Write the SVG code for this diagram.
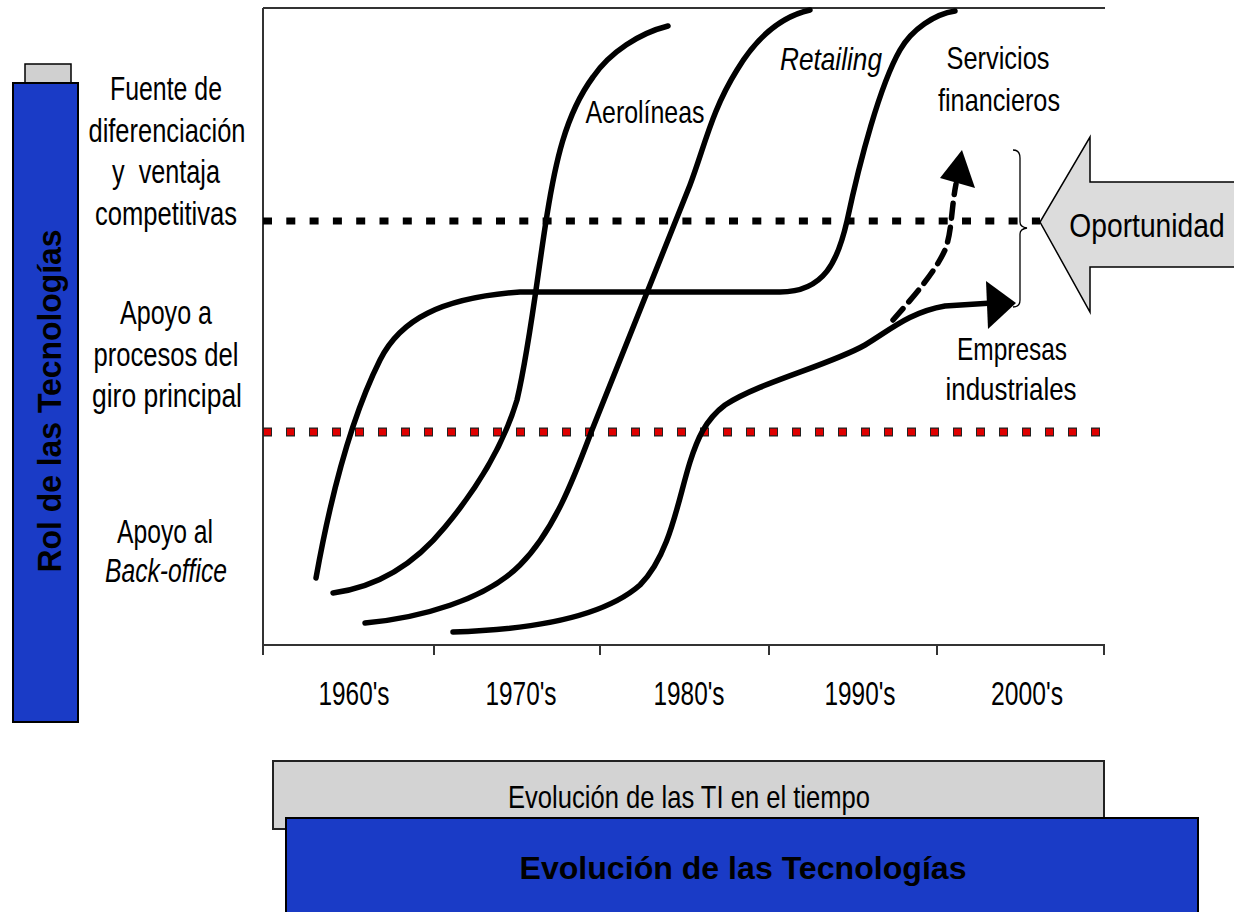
<svg xmlns="http://www.w3.org/2000/svg" width="1234" height="912" viewBox="0 0 1234 912">
<style>
.t{font-family:'Liberation Sans Narrow','Liberation Sans',Arial,sans-serif;fill:#000;text-anchor:middle}
.lbl{font-size:33px}
.chart{font-size:32px}
.yr{font-size:33px}
.it{font-style:italic}
.b{font-weight:bold}
.frame{stroke:#333;stroke-width:2;fill:none}
.curve{stroke:#000;stroke-width:5.5;fill:none;stroke-linecap:round;stroke-linejoin:round}
</style>
<rect width="1234" height="912" fill="#fff"/>

<g id="rol-bar">
<rect x="25" y="64" width="46" height="19" fill="#d0d0d0" stroke="#000" stroke-width="1.5"/>
<rect x="13" y="83" width="65" height="639" fill="#1a3bc6" stroke="#000" stroke-width="2"/>
<text class="t b" font-family="'Liberation Sans',Arial,sans-serif" font-size="34" transform="translate(61,401) rotate(-90)" textLength="343" lengthAdjust="spacingAndGlyphs">Rol de las Tecnologías</text>
</g>

<g id="row-labels">
<text class="t lbl" x="166" y="100" textLength="112" lengthAdjust="spacingAndGlyphs">Fuente de</text>
<text class="t lbl" x="167" y="142" textLength="157" lengthAdjust="spacingAndGlyphs">diferenciación</text>
<text class="t lbl" x="166" y="183" textLength="108" lengthAdjust="spacingAndGlyphs" xml:space="preserve">y  ventaja</text>
<text class="t lbl" x="166" y="225" textLength="142" lengthAdjust="spacingAndGlyphs">competitivas</text>
<text class="t lbl" x="166" y="324" textLength="92" lengthAdjust="spacingAndGlyphs">Apoyo a</text>
<text class="t lbl" x="166" y="366" textLength="145" lengthAdjust="spacingAndGlyphs">procesos del</text>
<text class="t lbl" x="167" y="407" textLength="150" lengthAdjust="spacingAndGlyphs">giro principal</text>
<text class="t lbl" x="165" y="543" textLength="96" lengthAdjust="spacingAndGlyphs">Apoyo al</text>
<text class="t lbl it" x="166" y="582" textLength="122" lengthAdjust="spacingAndGlyphs">Back-office</text>
</g>

<g id="chart-frame">
<path class="frame" d="M263,8 L1105,8 M263,8 L263,645 L1105,645"/>
<path class="frame" stroke-width="1.5" d="M263,645 V655 M434,645 V655 M600,645 V655 M769,645 V655 M937,645 V655 M1104,645 V655"/>
</g>

<g id="thresholds">
<line x1="263" y1="221" x2="1040" y2="221" stroke="#000" stroke-width="7" stroke-dasharray="9 14.3"/>
<line x1="263" y1="432" x2="1106" y2="432" stroke="#222" stroke-width="9" stroke-dasharray="9 14"/>
<line x1="264" y1="432" x2="1106" y2="432" stroke="#e00000" stroke-width="6.5" stroke-dasharray="7 16"/>
</g>

<g id="connectors">
<path id="c-financieros" class="curve" d="M316,578 C330,500 350,420 380,360 C400,320 440,298 520,292 L780,292 C825,292 838,260 847,221 C860,160 880,85 900,50 C912,29 935,14 955,11"/>
<path id="c-aerolineas" class="curve" d="M333,593 C370,588 410,570 445,527 C480,485 505,440 517,400 C530,345 538,270 547,215 C555,165 565,115 593,77 C610,52 640,33 668,26"/>
<path id="c-retailing" class="curve" d="M365,623 C420,618 485,600 520,565 C555,530 575,475 592,430 L690,185 C705,145 712,110 737,70 C752,45 775,18 810,10"/>
<path id="c-industriales" class="curve" d="M453,632 C520,630 600,620 640,585 C670,555 678,500 690,462 C697,440 705,420 725,405 C760,382 830,365 865,345 C890,330 910,312 945,306 L992,303"/>
<polygon points="986,281 1016,303 988,329" fill="#000"/>
<path id="c-dashed" class="curve" stroke-linecap="butt" stroke-dasharray="15 9" d="M893,320 C915,295 935,272 945,250 C952,232 951,210 956,184"/>
<polygon points="962,150 940,178 975,188" fill="#000"/>
<path id="brace" d="M1013,150 Q1020,150 1020,158 L1020,222 Q1020,227 1027,228 Q1020,229 1020,234 L1020,300 Q1020,307 1013,307" fill="none" stroke="#000" stroke-width="1.3"/>
</g>

<g id="curve-labels">
<text class="t chart" x="645" y="123" textLength="119" lengthAdjust="spacingAndGlyphs">Aerolíneas</text>
<text class="t chart it" x="831" y="70" textLength="102" lengthAdjust="spacingAndGlyphs">Retailing</text>
<text class="t chart" x="998" y="69" textLength="103" lengthAdjust="spacingAndGlyphs">Servicios</text>
<text class="t chart" x="999" y="111" textLength="122" lengthAdjust="spacingAndGlyphs">financieros</text>
<text class="t chart" x="1012" y="360" textLength="110" lengthAdjust="spacingAndGlyphs">Empresas</text>
<text class="t chart" x="1011" y="400" textLength="131" lengthAdjust="spacingAndGlyphs">industriales</text>
</g>

<g id="oportunidad">
<polygon points="1040,222 1090,137 1090,182 1234,182 1234,267 1090,267 1090,312" fill="#dcdcdc"/>
<path d="M1234,182 L1090,182 L1090,137 L1040,222 L1090,312 L1090,267 L1234,267" fill="none" stroke="#000" stroke-width="1.5"/>
<text class="t" font-size="34" transform="translate(1147,237) scale(0.83,1)">Oportunidad</text>
</g>

<g id="years">
<text class="t yr" x="354" y="705" textLength="71" lengthAdjust="spacingAndGlyphs">1960's</text>
<text class="t yr" x="521" y="705" textLength="71" lengthAdjust="spacingAndGlyphs">1970's</text>
<text class="t yr" x="689" y="705" textLength="71" lengthAdjust="spacingAndGlyphs">1980's</text>
<text class="t yr" x="860" y="705" textLength="71" lengthAdjust="spacingAndGlyphs">1990's</text>
<text class="t yr" x="1027" y="705" textLength="72" lengthAdjust="spacingAndGlyphs">2000's</text>
</g>

<g id="ti-box">
<rect x="273" y="761" width="831" height="68" fill="#d3d3d3" stroke="#222" stroke-width="2"/>
<text class="t" font-size="32" x="689" y="808" textLength="362" lengthAdjust="spacingAndGlyphs">Evolución de las TI en el tiempo</text>
</g>

<g id="tec-box">
<rect x="286" y="818" width="912" height="100" fill="#1a3bc6" stroke="#000" stroke-width="2"/>
<text class="t b" font-size="32" x="743" y="879" textLength="447" lengthAdjust="spacingAndGlyphs">Evolución de las Tecnologías</text>
</g>
</svg>
